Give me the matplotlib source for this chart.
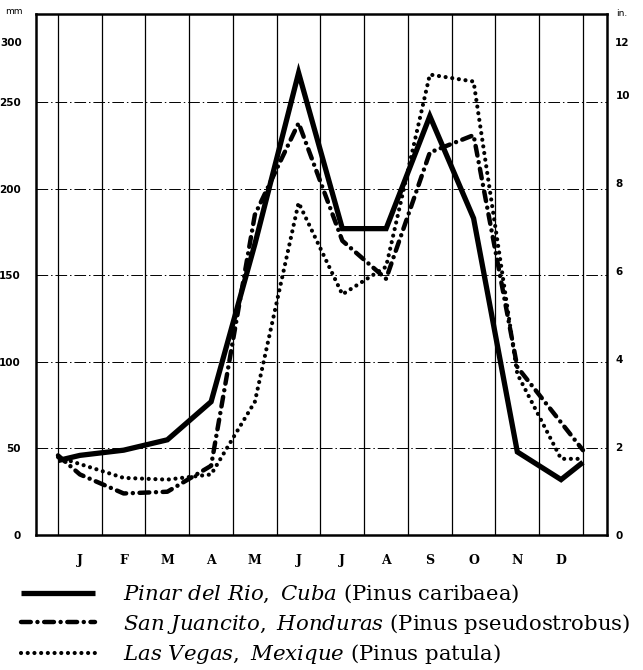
import matplotlib
matplotlib.use('Agg')
import matplotlib.pyplot as plt

# fonts: serif text like the printed figure
plt.rcParams['font.family'] = ['DejaVu Serif']
plt.rcParams['mathtext.fontset'] = 'dejavuserif'

# month positions: month boundaries are 0..12, centres at 0.5..11.5
months = ['J', 'F', 'M', 'A', 'M', 'J', 'J', 'A', 'S', 'O', 'N', 'D']
x_pos = [0, 0.5, 1.5, 2.5, 3.5, 4.5, 5.5, 6.5, 7.5, 8.5, 9.5, 10.5, 11.5, 12]

# monthly rainfall in mm (first / last value = curve ends at the year edges)
pinar = [43, 46, 49, 55, 77, 168, 267, 177, 177, 242, 183, 48, 32, 42]
honduras = [46, 35, 24, 25, 40, 185, 238, 170, 148, 221, 231, 97, 65, 49]
vegas = [45, 41, 33, 32, 35, 77, 192, 139, 155, 266, 262, 93, 44, 44]

labels = [r'$\mathit{Pinar\ del\ Rio,\ Cuba}$ (Pinus caribaea)',
          r'$\mathit{San\ Juancito,\ Honduras}$ (Pinus pseudostrobus)',
          r'$\mathit{Las\ Vegas,\ Mexique}$ (Pinus patula)']

fig = plt.figure(figsize=(6.43, 6.70), dpi=100)
ax = fig.add_axes([36 / 643, 1 - 535 / 670, 571 / 643, 521 / 670])

# the three curves
l1, = ax.plot(x_pos, pinar, color='black', lw=3.8, solid_joinstyle='miter',
              solid_capstyle='butt')
l2, = ax.plot(x_pos, honduras, color='black', lw=3.2,
              linestyle=(0, (2.2, 1.5, 0.01, 1.5)), dash_capstyle='round')
l3, = ax.plot(x_pos, vegas, color='black', lw=3.0,
              linestyle=(0, (0.01, 1.6)), dash_capstyle='round')

# axis ranges
ax.set_xlim(-0.503, 12.55)
ax.set_ylim(0, 301)

# vertical grid at month boundaries, month letters at centres
ax.set_xticks([i + 0.5 for i in range(12)])
ax.set_xticklabels(months, fontweight='bold', fontsize=9)
ax.set_xticks(range(13), minor=True)
ax.tick_params(axis='x', which='both', length=0, pad=14)
ax.grid(axis='x', which='minor', color='black', lw=0.9)

# horizontal dash-dot grid every 50 mm
ax.set_yticks([0, 50, 100, 150, 200, 250])
ax.tick_params(axis='y', length=0, pad=11, labelsize=7.5)
ax.grid(axis='y', which='major', color='black', lw=0.7,
        linestyle=(0, (12, 3, 1.5, 3)))
for lab in ax.get_yticklabels():
    lab.set_fontfamily('DejaVu Sans')
    lab.set_fontweight('bold')

# frame
for s in ax.spines.values():
    s.set_linewidth(1.8)

# right axis in inches
ax2 = ax.twinx()
ax2.set_ylim(0, 301 / 25.4)
ax2.set_yticks([0, 2, 4, 6, 8, 10])
ax2.tick_params(axis='y', length=0, pad=6, labelsize=7.5)
for lab in ax2.get_yticklabels():
    lab.set_fontfamily('DejaVu Sans')
    lab.set_fontweight('bold')
for s in ax2.spines.values():
    s.set_visible(False)

# top labels, printed a bit below the frame in the original
ax.text(-0.024, 0.944, '300', transform=ax.transAxes, ha='right', va='center',
        fontsize=7.5, fontweight='bold', family='DejaVu Sans')
ax.text(1.014, 0.944, '12', transform=ax.transAxes, ha='left', va='center',
        fontsize=7.5, fontweight='bold', family='DejaVu Sans')

# units
fig.text(14 / 643, 1 - 12 / 670, 'mm', ha='center', va='center', fontsize=6.5,
         family='DejaVu Sans')
fig.text(622 / 643, 1 - 13 / 670, 'in.', ha='center', va='center', fontsize=6.5,
         family='DejaVu Sans')

# legend under the chart
fig.legend([l1, l2, l3], labels, loc='upper left',
           bbox_to_anchor=(21 / 643, 1 - 583 / 670), frameon=False,
           fontsize=15.3, handlelength=3.5, handletextpad=1.3,
           labelspacing=0.3, borderpad=0, borderaxespad=0)

fig.savefig('out.png', dpi=100)
